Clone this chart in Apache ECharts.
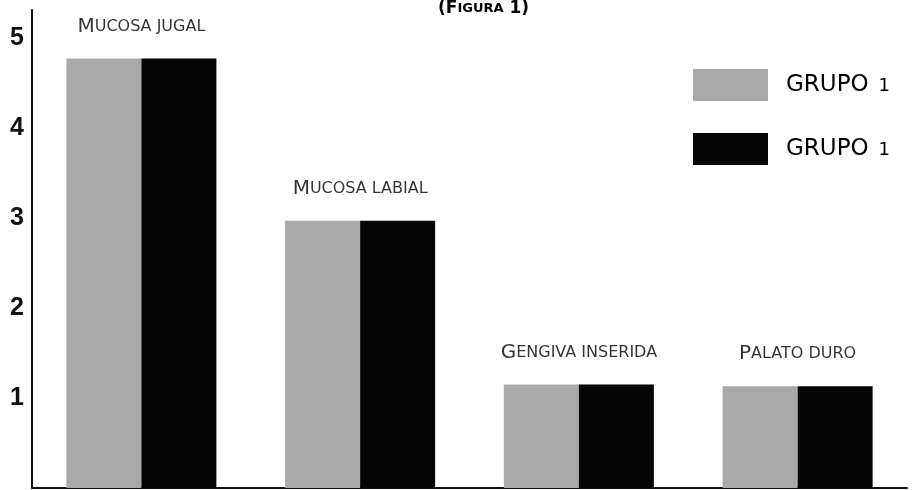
<!DOCTYPE html>
<html>
<head>
<meta charset="utf-8">
<script src="https://cdn.jsdelivr.net/npm/echarts@6/dist/echarts.min.js"></script>
<style>html,body{margin:0;padding:0;background:#fff}#c{width:916px;height:490px}</style>
</head>
<body>
<div id="c"></div>
<script>
const categories = ['Mucosa jugal', 'Mucosa labial', 'Gengiva inserida', 'Palato duro'];
const grupoA = [4.77, 2.97, 1.15, 1.13];
const grupoB = [4.77, 2.97, 1.15, 1.13];
const seriesNames = ['Grupo 1 (cinza)', 'Grupo 1 (preto)'];
const legendLabels = ['GRUPO 1', 'GRUPO 1'];
const yTickLabels = ['', '1', '2', '3', '4', '5'];

function smallCaps(t) {
  return t.split(' ').map((w, i) => i === 0
    ? '{b|' + w[0].toUpperCase() + '}{s|' + w.slice(1).toUpperCase() + '}'
    : '{s|' + w.toUpperCase() + '}').join('{s| }');
}
const labelTops = grupoA.map((v, i) => Math.max(v, grupoB[i]));

const chart = echarts.init(document.getElementById('c'));
chart.setOption({
  animation: false,
  backgroundColor: '#ffffff',
  title: {
    text: '{b|(F}{s|IGURA}{b| 1)}',
    left: 433, top: -5,
    textStyle: {
      rich: {
        b: {fontFamily: 'DejaVu Sans', fontWeight: 'bold', fontSize: 17, color: '#000'},
        s: {fontFamily: 'DejaVu Sans', fontWeight: 'bold', fontSize: 13, color: '#000'}
      }
    }
  },
  legend: {
    orient: 'vertical',
    left: 688, top: 64,
    itemWidth: 75, itemHeight: 32, itemGap: 32,
    icon: 'rect',
    data: seriesNames,
    formatter: function (name) {
      const t = legendLabels[seriesNames.indexOf(name)];
      const parts = t.split(' ');
      return '{g|' + parts[0] + '}{n|' + parts[1] + '}';
    },
    textStyle: {
      padding: [0, 0, 0, 13],
      rich: {
        g: {fontFamily: 'DejaVu Sans', fontSize: 23, color: '#000'},
        n: {fontFamily: 'DejaVu Sans', fontSize: 18, color: '#000', padding: [3, 0, 0, 10]}
      }
    }
  },
  grid: {left: 32, right: 9, top: 10, bottom: 2, containLabel: false},
  xAxis: {
    type: 'category',
    data: categories,
    axisLine: {show: true, lineStyle: {color: '#111', width: 2}},
    axisTick: {show: false},
    axisLabel: {show: false},
    splitLine: {show: false}
  },
  yAxis: {
    type: 'value',
    min: 0, max: 5.31, interval: 1,
    axisLine: {show: true, lineStyle: {color: '#111', width: 2}},
    axisTick: {show: false},
    splitLine: {show: false},
    axisLabel: {
      margin: 8,
      showMaxLabel: false,
      fontFamily: 'Liberation Sans', fontWeight: 'bold', fontSize: 25, color: '#111',
      formatter: function (v) { return Number.isInteger(v) ? (yTickLabels[v] || '') : ''; }
    }
  },
  series: [
    {
      name: seriesNames[0], type: 'bar', data: grupoA,
      barWidth: 75, barGap: '0%',
      itemStyle: {color: '#a9a9a9'}
    },
    {
      name: seriesNames[1], type: 'bar', data: grupoB,
      barWidth: 75, barGap: '0%',
      itemStyle: {color: '#050505'}
    },
    {
      type: 'scatter', data: labelTops, symbolSize: 0, silent: true,
      label: {
        show: true, position: 'top', distance: 22,
        formatter: function (p) { return smallCaps(categories[p.dataIndex]); },
        rich: {
          b: {fontFamily: 'DejaVu Sans', fontSize: 20, color: '#000'},
          s: {fontFamily: 'DejaVu Sans', fontSize: 16, color: '#000'}
        }
      }
    }
  ]
});
</script>
</body>
</html>
